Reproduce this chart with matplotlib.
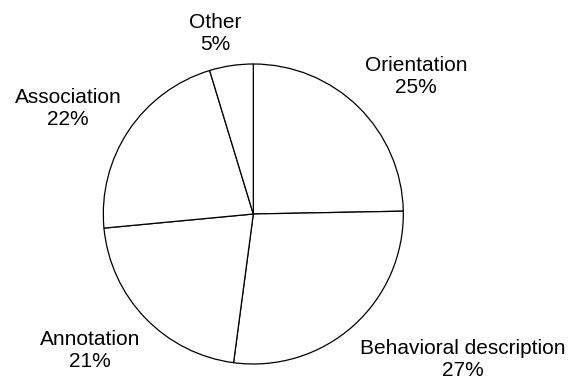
import matplotlib

matplotlib.use("Agg")
import matplotlib.pyplot as plt

plt.rcParams["font.family"] = ["Liberation Sans", "DejaVu Sans"]

categories = ["Orientation", "Behavioral description", "Annotation", "Association", "Other"]
shares = [24.7, 27.4, 21.4, 21.8, 4.7]
pct_labels = ["25%", "27%", "21%", "22%", "5%"]
label_spots = [(1.085, 0.915), (1.398, -0.967), (-1.089, -0.913), (-1.235, 0.703), (-0.255, 1.203)]

figure = plt.figure(figsize=(5.71, 3.81), dpi=100)
axes = figure.add_axes([0, 0, 1, 1])

wedges, texts = axes.pie(
    shares,
    labels=[f"{name}\n{pct}" for name, pct in zip(categories, pct_labels)],
    startangle=90,
    counterclock=False,
    colors=["white"] * len(shares),
    wedgeprops={"edgecolor": "black", "linewidth": 0.9},
    textprops={"fontsize": 15},
)
for text, spot in zip(texts, label_spots):
    text.set_position(spot)
    text.set_horizontalalignment("center")
    text.set_verticalalignment("center")
    text.set_multialignment("center")

axes.set_xlim(-253.3 / 150, (571 - 253.3) / 150)
axes.set_ylim(-167 / 150, 214 / 150)
axes.set_aspect("equal")
axes.axis("off")

figure.savefig("out.png", dpi=100)
